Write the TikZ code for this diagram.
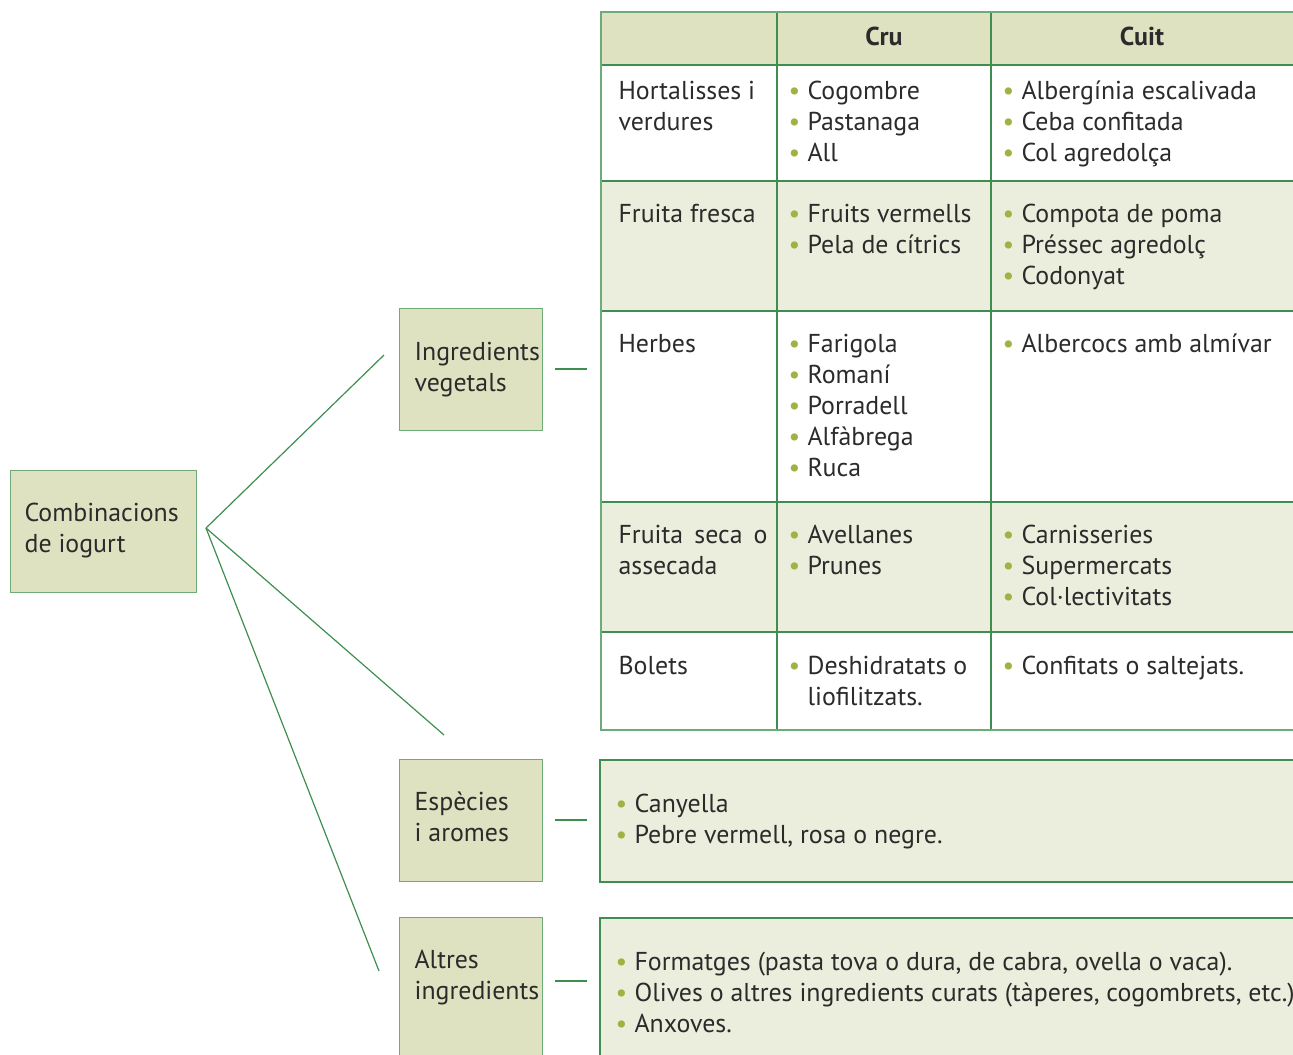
\documentclass[tikz,border=0pt]{standalone}
\usepackage{fontspec}
\setmainfont{PT Sans}
\usetikzlibrary{positioning}

\definecolor{linegreen}{HTML}{3E8E4F}
\definecolor{edgegreen}{HTML}{6FAA79}
\definecolor{boxgreen}{HTML}{DFE2C1}
\definecolor{rowgreen}{HTML}{ECEEDD}
\definecolor{dotgreen}{HTML}{9DB443}
\definecolor{inkgrey}{HTML}{2B2B2B}

\newcommand{\bul}{\makebox[14.25pt][l]{\textcolor{dotgreen}{\textbullet}}}

\begin{document}
\begin{tikzpicture}[x = 0.75pt, y = -0.75pt, % one unit = one pixel, y down
                line width = 0.9pt, % line style
                text = inkgrey,
                font = \fontsize{19.4}{23.25}\selectfont
            ]

            % cells sit on the baseline of their last line
            \tikzstyle{box}=[draw = edgegreen, fill = boxgreen, anchor = north
            west, inner sep = 0pt]
            \tikzstyle{cell}=[anchor = base west, align = left, inner sep = 0pt]
            \tikzstyle{head}=[anchor = base, inner sep = 0pt, font =
            \fontsize{19.4}{23.25}\selectfont\bfseries]
            \tikzstyle{link}=[draw = linegreen, line width = 0.9pt]

            \useasboundingbox (0,0) rectangle (1293,1054);
            \clip (0,0) rectangle (1293,1054);

            % table rows
            \fill[boxgreen] (601,12) rectangle (1293,65);
            \fill[rowgreen] (601,181) rectangle (1293,311);
            \fill[rowgreen] (601,502) rectangle (1293,632);
            \foreach \y in {65,181,311,502,632}
                \draw[linegreen] (601,\y) -- (1293,\y);
            \foreach \x in {777,991}
                \draw[linegreen] (\x,12) -- (\x,730);
            \draw[edgegreen] (1293,12) -- (601,12) -- (601,730) -- (1293,730);

            % header
            \node[head] (cru) at (884,45) {Cru};
            \node[head] (cuit) at (1142,45) {Cuit};

            % row 1
            \node[cell] (hort) at (618,130) {Hortalisses i\\verdures};
            \node[cell] (hort-cru) at (788,161)
                {\bul Cogombre\\\bul Pastanaga\\\bul All};
            \node[cell] (hort-cuit) at (1002,161)
                {\bul Albergínia escalivada\\\bul Ceba confitada\\\bul Col agredolça};

            % row 2
            \node[cell] (fres) at (618,222) {Fruita fresca};
            \node[cell] (fres-cru) at (788,253)
                {\bul Fruits vermells\\\bul Pela de cítrics};
            \node[cell] (fres-cuit) at (1002,284)
                {\bul Compota de poma\\\bul Préssec agredolç\\\bul Codonyat};

            % row 3
            \node[cell] (herb) at (618,352) {Herbes};
            \node[cell] (herb-cru) at (788,476)
                {\bul Farigola\\\bul Romaní\\\bul Porradell\\\bul Alfàbrega\\\bul Ruca};
            \node[cell] (herb-cuit) at (1002,352) {\bul Albercocs amb almívar};

            % row 4
            \node[cell] (seca) at (618,574)
                {\makebox[111.75pt][s]{Fruita seca o}\\assecada};
            \node[cell] (seca-cru) at (788,574) {\bul Avellanes\\\bul Prunes};
            \node[cell] (seca-cuit) at (1002,605)
                {\bul Carnisseries\\\bul Supermercats\\\bul Col·lectivitats};

            % row 5
            \node[cell] (bol) at (618,674) {Bolets};
            \node[cell] (bol-cru) at (788,705)
                {\bul Deshidratats o\\\hspace*{14.25pt}liofilitzats.};
            \node[cell] (bol-cuit) at (1002,674) {\bul Confitats o saltejats.};

            % lower panels
            \fill[rowgreen] (600,760) rectangle (1293,882);
            \draw[linegreen] (1293,760) -- (600,760) -- (600,882) -- (1293,882);
            \fill[rowgreen] (600,918) rectangle (1293,1060);
            \draw[linegreen] (1293,918) -- (600,918) -- (600,1060);
            \node[cell] (esp-list) at (615,843)
                {\bul Canyella\\\bul Pebre vermell, rosa o negre.};
            \node[cell] (alt-list) at (615,1032)
                {\bul Formatges (pasta tova o dura, de cabra, ovella o vaca).\\
                 \bul Olives o altres ingredients curats (tàperes, cogombrets, etc.)\\
                 \bul Anxoves.};

            % boxes
            \node[box, minimum width = 139.5pt, minimum height = 91.5pt]
                (root) at (10,470) {};
            \node[box, minimum width = 107.25pt, minimum height = 91.5pt]
                (veg) at (399,308) {};
            \node[box, minimum width = 107.25pt, minimum height = 91.5pt]
                (esp) at (399,759) {};
            \node[box, minimum width = 107.25pt, minimum height = 112.5pt]
                (alt) at (399,917) {};

            \node[cell] (root-t) at (24,552) {Combinacions\\de iogurt};
            \node[cell] (veg-t) at (414,391) {Ingredients\\vegetals};
            \node[cell] (esp-t) at (414,841) {Espècies\\i aromes};
            \node[cell] (alt-t) at (414,999) {Altres\\ingredients};

            % connectors
            \coordinate (fan) at (206,528);
            \coordinate (veg-in) at (384,355);
            \coordinate (tab-in) at (444,735);
            \coordinate (alt-in) at (379,971);
            \coordinate (veg-a) at (555,369); \coordinate (veg-b) at (587,369);
            \coordinate (esp-a) at (555,820); \coordinate (esp-b) at (587,820);
            \coordinate (alt-a) at (555,981); \coordinate (alt-b) at (587,981);

            \path[link] (fan) edge (veg-in); \path[link] (fan) edge (tab-in);
            \path[link] (fan) edge (alt-in); \path[link] (veg-a) edge (veg-b);
            \path[link] (esp-a) edge (esp-b); \path[link] (alt-a) edge (alt-b);
        \end{tikzpicture}
\end{document}
